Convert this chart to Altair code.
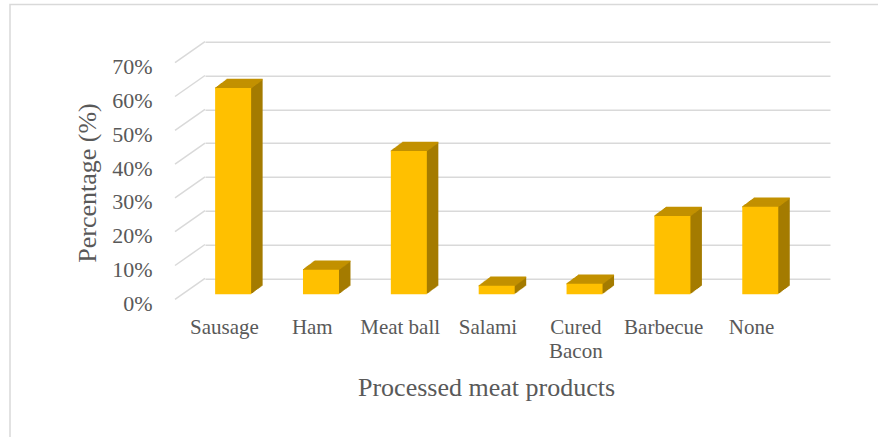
import altair as alt
import pandas as pd

categories = ["Sausage", "Ham", "Meat ball", "Salami", "Cured Bacon", "Barbecue", "None"]
label_lines = [["Sausage"], ["Ham"], ["Meat ball"], ["Salami"], ["Cured", "Bacon"], ["Barbecue"], ["None"]]
values = [0.61, 0.073, 0.424, 0.025, 0.031, 0.232, 0.259]
y_ticks = [0, 0.1, 0.2, 0.3, 0.4, 0.5, 0.6, 0.7]

df = pd.DataFrame({"cat": categories, "i": list(range(len(categories))), "v": values})
ticks_df = pd.DataFrame({"t": y_ticks})
one_df = pd.DataFrame({"b": [0]})

W, H = 625, 236.6
FRONT, TOP, SIDE = "#FFC000", "#C29100", "#A47B00"
GRID, TEXT, FONT = "#D9D9D9", "#595959", "Liberation Serif"

xscale = alt.Scale(domain=[-0.5, 6.5], nice=False, zero=False)
yscale = alt.Scale(domain=[0, 0.7], nice=False, zero=True)

base_dx = -20.8
face_dy = 16
bar_w = 36
depth_dx, depth_dy = 11.5, -8.5
N = 12

label_expr = "[" + ",".join("[" + ",".join("'" + s + "'" for s in l) + "]" for l in label_lines) + "][datum.value]"

y_axis = alt.Axis(values=y_ticks, format=".0%", grid=True, gridColor=GRID, gridWidth=1.5,
                  domain=False, ticks=False, tickSize=0, labelPadding=53, labelOffset=25,
                  labelFont=FONT, labelFontSize=22, labelColor=TEXT,
                  title="Percentage (%)", titleFont=FONT, titleFontSize=26, titleColor=TEXT,
                  titleFontWeight="normal", titleAngle=270, titleX=-110, titleY=140.8,
                  titleBaseline="alphabetic", titleAlign="center")

x_axis = alt.Axis(values=list(range(len(categories))), labelExpr=label_expr, grid=False,
                  domain=False, ticks=False, tickSize=0, labelPadding=38.4, labelOffset=-30,
                  labelFont=FONT, labelFontSize=21, labelColor=TEXT, labelLineHeight=24,
                  labelOverlap=False, labelFlush=False, labelBound=False, labelBaseline="top",
                  title="Processed meat products", titleFont=FONT, titleFontSize=26,
                  titleColor=TEXT, titleFontWeight="normal", titleX=281, titleY=116.7,
                  titleBaseline="alphabetic", titleAlign="center")

layers = []

border = alt.Chart(one_df).mark_rect(fillOpacity=0, stroke=GRID, strokeWidth=1.5).encode(
    x=alt.value(-195), x2=alt.value(700), y=alt.value(-37.2), y2=alt.value(400))
layers.append(border)

diag = alt.Chart(ticks_df).mark_rule(color=GRID, strokeWidth=1.5, y2Offset=21).encode(
    y=alt.Y("t:Q", scale=yscale, axis=y_axis), y2="t:Q",
    x=alt.value(0), x2=alt.value(-30))
layers.append(diag)

for k in range(1, N + 1):
    ox = base_dx + k * depth_dx / N
    oy = face_dy + k * depth_dy / N
    layers.append(alt.Chart(df).mark_bar(color=SIDE, size=bar_w, xOffset=ox, yOffset=oy, y2Offset=oy).encode(
        x=alt.X("i:Q", scale=xscale, axis=x_axis),
        y=alt.Y("v:Q", scale=yscale, axis=y_axis)))

for k in range(0, N + 1):
    ox = base_dx + k * depth_dx / N
    oy = face_dy + k * depth_dy / N
    layers.append(alt.Chart(df).mark_rule(color=TOP, strokeWidth=1.5,
                                          xOffset=ox - bar_w / 2, x2Offset=ox + bar_w / 2,
                                          yOffset=oy, y2Offset=oy).encode(
        x=alt.X("i:Q", scale=xscale, axis=x_axis), x2="i:Q",
        y=alt.Y("v:Q", scale=yscale, axis=y_axis), y2="v:Q"))

front = alt.Chart(df).mark_bar(color=FRONT, size=bar_w, xOffset=base_dx, yOffset=face_dy, y2Offset=face_dy).encode(
    x=alt.X("i:Q", scale=xscale, axis=x_axis),
    y=alt.Y("v:Q", scale=yscale, axis=y_axis),
    tooltip=["cat:N", alt.Tooltip("v:Q", format=".1%")])
layers.append(front)

chart = alt.layer(*layers).properties(
    width=W, height=H,
    padding={"left": 205, "top": 41.7, "right": 48, "bottom": 158.7},
    autosize=alt.AutoSizeParams(type="none"),
    background="white",
).configure_view(strokeOpacity=0)

chart.save("out.html", embed_options={"renderer": "svg", "actions": False})
